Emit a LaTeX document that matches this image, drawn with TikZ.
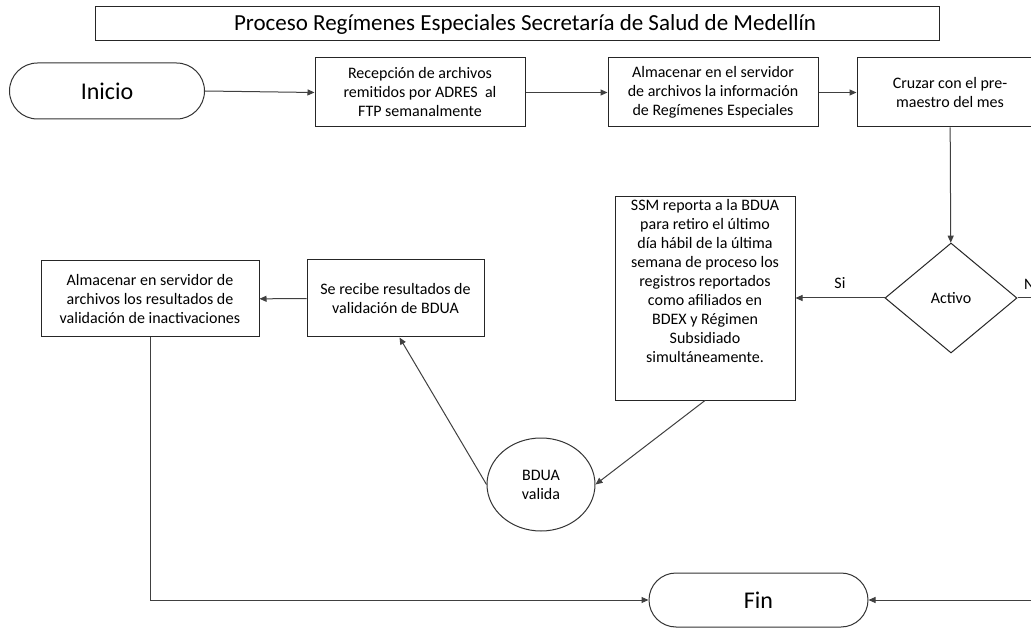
\documentclass[tikz,border=0pt]{standalone}
\usepackage{fontspec}
\setmainfont{Carlito}
\usetikzlibrary{arrows.meta,shapes.geometric,shapes.misc,calc}
\tikzset{
  bx/.style={draw=black!85, line width=1pt, rectangle, inner sep=0pt, align=center,
    font=\fontsize{16}{19}\selectfont},
  term/.style={draw=black!80, line width=1pt, rounded rectangle, inner sep=0pt,
    font=\fontsize{24}{29}\selectfont},
  conn/.style={draw=black!75, line width=1pt, -{Triangle[length=7pt,width=6pt]}},
  lbl/.style={font=\fontsize{16}{19}\selectfont, inner sep=0pt}
}
\begin{document}
\begin{tikzpicture}[x=1pt,y=-1pt]
\useasboundingbox (0,0) rectangle (1031,628);
\clip (0,0) rectangle (1031,628);
\fill[white] (0,0) rectangle (1031,628);

\node[bx, minimum width=844pt, minimum height=34pt, font=\fontsize{23}{28}\selectfont] (title) at (517,24)
  {\hspace*{16pt}Proceso Regímenes Especiales Secretaría de Salud de Medellín};

\node[term, minimum width=195pt, minimum height=56pt] (inicio) at (107,91) {Inicio};
\node[bx, minimum width=210pt, minimum height=69pt] (box1) at (420,92.5)
  {Recepción de archivos\\remitidos por ADRES\ \ al\\FTP semanalmente};
\node[bx, minimum width=210pt, minimum height=69pt] (box2) at (713,92.5)
  {Almacenar en el servidor\\de archivos la información\\de Regímenes Especiales};
\node[bx, minimum width=186pt, minimum height=69pt] (box3) at (950,92.5)
  {Cruzar con el pre-\\maestro del mes};

\node[draw=black!85, line width=1pt, diamond, inner sep=0pt, minimum width=132pt,
  minimum height=110pt, font=\fontsize{16}{19}\selectfont] (dia) at (951,298) {Activo};

\node[bx, minimum width=180pt, minimum height=203pt] (ssm) at (705,298.5) {};
\node[lbl, align=center, anchor=north] (ssmtext) at (705,199)
  {SSM reporta a la BDUA\\para retiro el último\\día hábil de la última\\semana de proceso los\\registros reportados\\como afiliados en\\BDEX y Régimen\\Subsidiado\\simultáneamente.};

\node[draw=black!80, line width=1pt, ellipse, inner sep=0pt, minimum width=108pt,
  minimum height=93pt, align=center, font=\fontsize{16}{19}\selectfont] (bdua) at (541,484.5)
  {BDUA\\valida};

\node[bx, minimum width=177pt, minimum height=77pt] (serecibe) at (395.5,298.5)
  {Se recibe resultados de\\validación de BDUA};
\node[bx, minimum width=218pt, minimum height=76pt] (almac) at (150,299)
  {Almacenar en servidor de\\archivos los resultados de\\validación de inactivaciones};

\node[term, minimum width=219pt, minimum height=54pt] (fin) at (758.5,600) {Fin};

\coordinate (noturn) at (1045,298);

\draw[conn] (inicio.east) -- (box1.west);
\draw[conn] (box1) -- (box2);
\draw[conn] (box2) -- (box3);
\draw[conn] (box3) -- (dia);
\draw[conn] (dia.west) -- node[lbl, above=9pt] (si) {Si} (ssm.east |- dia.west);
\draw[conn] (ssm.south) -- (bdua.east);
\draw[conn] (bdua.west) -- ($(serecibe.south)+(4,0)$);
\draw[conn] (serecibe) -- (almac);
\draw[conn] (almac.south) |- (fin.west);
\draw[conn] (dia.east) -- (noturn) |- (fin.east);
\node[lbl, anchor=south west] (no) at (1024,290) {No};
\end{tikzpicture}
\end{document}
